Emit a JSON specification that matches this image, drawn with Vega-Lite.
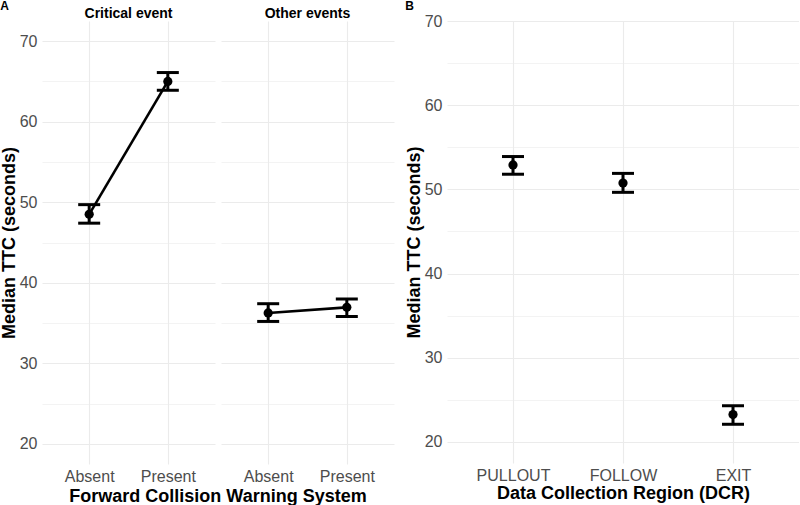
{
  "$schema": "https://vega.github.io/schema/vega-lite/v6.json",
  "padding": {"left": 0, "top": 0, "right": 0, "bottom": 0},
  "background": "white",
  "config": {
    "font": "Liberation Sans",
    "view": {"stroke": null},
    "axis": {
      "domain": false,
      "ticks": false,
      "tickSize": 0,
      "labelColor": "#4D4D4D",
      "labelFontSize": 16,
      "labelFont": "Liberation Sans",
      "titleFont": "Liberation Sans",
      "titleFontSize": 18,
      "titleFontWeight": "bold",
      "titleColor": "black",
      "gridColor": "#EBEBEB",
      "gridWidth": 1.1
    },
    "header": {"labelFontWeight": "bold", "labelFontSize": 14, "labelColor": "black", "labelFont": "Liberation Sans", "titleFont": "Liberation Sans", "titleFontSize": 18, "titleFontWeight": "bold", "titleColor": "black"},
    "title": {"fontSize": 12, "fontWeight": "bold", "color": "black", "anchor": "start", "font": "Liberation Sans"},
    "concat": {"spacing": 11}
  },
  "datasets": {
    "fcws": [
      {"event": "Critical event", "fcws": "Absent", "ttc": 48.5, "lo": 47.4, "hi": 49.7},
      {"event": "Critical event", "fcws": "Present", "ttc": 65.0, "lo": 63.9, "hi": 66.1},
      {"event": "Other events", "fcws": "Absent", "ttc": 36.25, "lo": 35.2, "hi": 37.4},
      {"event": "Other events", "fcws": "Present", "ttc": 36.95, "lo": 35.8, "hi": 38.0}
    ],
    "dcr": [
      {"dcr": "PULLOUT", "ttc": 52.9, "lo": 51.8, "hi": 53.9},
      {"dcr": "FOLLOW", "ttc": 50.75, "lo": 49.65, "hi": 51.9},
      {"dcr": "EXIT", "ttc": 23.25, "lo": 22.1, "hi": 24.3}
    ]
  },
  "hconcat": [
    {
      "data": {"name": "fcws"},
      "title": {"text": "A", "offset": -6, "frame": "bounds"},
      "facet": {
        "column": {"field": "event", "type": "nominal", "header": {"title": "Forward Collision Warning System", "titleOrient": "bottom", "labelOrient": "top", "labelPadding": 0, "titlePadding": -6}}
      },
      "spacing": 6,
      "spec": {
        "width": 173,
        "height": 443,
        "encoding": {
          "x": {"field": "fcws", "type": "nominal", "scale": {"type": "point", "padding": 0.6}, "axis": {"title": null, "labelAngle": 0, "grid": true, "labelPadding": 4}}
        },
        "layer": [
          {
            "mark": {"type": "line", "color": "black", "strokeWidth": 2.6},
            "encoding": {"y": {"field": "ttc", "type": "quantitative", "scale": {"domain": [17.5, 72.5], "nice": false, "zero": false}, "axis": {"title": "Median TTC (seconds)", "values": [20, 25, 30, 35, 40, 45, 50, 55, 60, 65, 70], "labelExpr": "datum.value % 10 == 0 ? datum.label : ''", "gridWidth": {"condition": {"test": "datum.value % 10 == 0", "value": 1.1}, "value": 0.6}, "labelPadding": 5, "titlePadding": 1}}}
          },
          {
            "mark": {"type": "rule", "color": "black", "strokeWidth": 3},
            "encoding": {"y": {"field": "lo", "type": "quantitative", "title": "Median TTC (seconds)"}, "y2": {"field": "hi"}}
          },
          {
            "mark": {"type": "tick", "color": "black", "size": 22, "thickness": 3, "orient": "horizontal", "opacity": 1},
            "encoding": {"y": {"field": "lo", "type": "quantitative", "title": "Median TTC (seconds)"}}
          },
          {
            "mark": {"type": "tick", "color": "black", "size": 22, "thickness": 3, "orient": "horizontal", "opacity": 1},
            "encoding": {"y": {"field": "hi", "type": "quantitative", "title": "Median TTC (seconds)"}}
          },
          {
            "mark": {"type": "point", "filled": true, "size": 85, "color": "black", "opacity": 1},
            "encoding": {"y": {"field": "ttc", "type": "quantitative", "title": "Median TTC (seconds)"}}
          }
        ]
      }
    },
    {
      "data": {"name": "dcr"},
      "title": {"text": "B", "offset": 0, "frame": "bounds"},
      "width": 352,
      "height": 442,
      "encoding": {
        "x": {"field": "dcr", "type": "nominal", "sort": ["PULLOUT", "FOLLOW", "EXIT"], "scale": {"type": "point", "padding": 0.6}, "axis": {"title": "Data Collection Region (DCR)", "labelAngle": 0, "grid": true, "labelPadding": 4, "titlePadding": 1}}
      },
      "layer": [
        {
          "mark": {"type": "rule", "color": "black", "strokeWidth": 3},
          "encoding": {"y": {"field": "lo", "type": "quantitative", "scale": {"domain": [17.5, 70], "nice": false, "zero": false}, "axis": {"title": "Median TTC (seconds)", "values": [20, 25, 30, 35, 40, 45, 50, 55, 60, 65, 70], "labelExpr": "datum.value % 10 == 0 ? datum.label : ''", "gridWidth": {"condition": {"test": "datum.value % 10 == 0", "value": 1.1}, "value": 0.6}, "labelPadding": 5, "titlePadding": 1}}, "y2": {"field": "hi"}}
        },
        {
          "mark": {"type": "tick", "color": "black", "size": 22, "thickness": 3, "orient": "horizontal", "opacity": 1},
          "encoding": {"y": {"field": "lo", "type": "quantitative", "title": "Median TTC (seconds)"}}
        },
        {
          "mark": {"type": "tick", "color": "black", "size": 22, "thickness": 3, "orient": "horizontal", "opacity": 1},
          "encoding": {"y": {"field": "hi", "type": "quantitative", "title": "Median TTC (seconds)"}}
        },
        {
          "mark": {"type": "point", "filled": true, "size": 85, "color": "black", "opacity": 1},
          "encoding": {"y": {"field": "ttc", "type": "quantitative", "title": "Median TTC (seconds)"}}
        }
      ]
    }
  ]
}
